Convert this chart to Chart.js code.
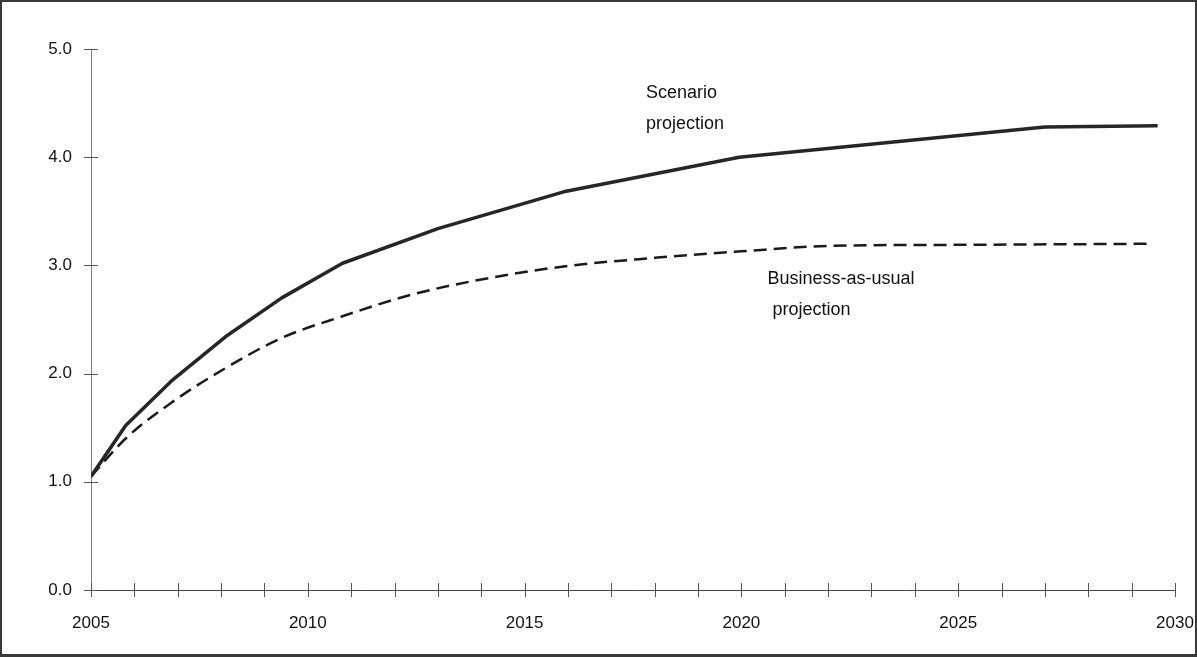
<!DOCTYPE html>
<html>
<head>
<meta charset="utf-8">
<script src="https://cdn.jsdelivr.net/npm/chart.js@4.4.1/dist/chart.umd.min.js"></script>
<style>
  html, body { margin:0; padding:0; background:#fff; }
  #wrap { position:relative; width:1197px; height:657px; }
  #frame { position:absolute; left:0; top:0; width:1197px; height:657px; box-sizing:border-box;
           border:2px solid #3a3a3a; border-bottom-width:3px; pointer-events:none; }
</style>
</head>
<body>
<div id="wrap">
  <canvas id="c" width="1197" height="657"></canvas>
  <div id="frame"></div>
</div>
<script>
// ====== DATA ======
const scenarioYears  = [2005, 2005.8, 2006.85, 2008.1, 2009.4, 2010.8, 2013.0, 2015.9, 2019.95, 2027.0, 2029.6];
const scenarioValues = [1.05, 1.52, 1.93, 2.34, 2.70, 3.02, 3.34, 3.68, 4.00, 4.28, 4.29];

const bauYears  = [2005, 2005.8, 2006.85, 2008.1, 2009.4, 2010.8, 2012.4, 2014.0, 2015.9, 2018.0, 2020.0, 2022.0, 2025.0, 2029.5];
const bauValues = [1.05, 1.40, 1.73, 2.05, 2.33, 2.53, 2.73, 2.87, 2.99, 3.07, 3.13, 3.18, 3.19, 3.20];

const xTickYears  = [2005, 2010, 2015, 2020, 2025, 2030];
const yTickValues = [0, 1, 2, 3, 4, 5];

// text labels placed in data coordinates
const notes = [
  { lines: ['Scenario', 'projection'], x: 2017.8, y: 4.59 },
  { lines: ['Business-as-usual', ' projection'], x: 2020.6, y: 2.87 }
];

const FAMILY = '"Liberation Sans", Arial, sans-serif';

// ====== HELPERS ======
const pts = (xs, ys) => xs.map((x, i) => ({ x, y: ys[i] }));

// ticks crossing the axis lines, like the original
const crossTicks = {
  id: 'crossTicks',
  afterDraw(chart){
    const { ctx, scales: { x, y } } = chart;
    ctx.save();
    ctx.lineWidth = 1;
    ctx.strokeStyle = '#555';
    for(let yr = 2005; yr <= 2030; yr++){
      const px = Math.round(x.getPixelForValue(yr)) + 0.5;
      ctx.beginPath(); ctx.moveTo(px, y.bottom - 7); ctx.lineTo(px, y.bottom + 7); ctx.stroke();
    }
    yTickValues.forEach(v => {
      const py = Math.round(y.getPixelForValue(v)) + 0.5;
      ctx.beginPath(); ctx.moveTo(x.left - 7, py); ctx.lineTo(x.left + 7, py); ctx.stroke();
    });
    ctx.restore();
  }
};

const noteText = {
  id: 'noteText',
  afterDatasetsDraw(chart){
    const { ctx, scales: { x, y } } = chart;
    ctx.save();
    ctx.font = '18px ' + FAMILY;
    ctx.fillStyle = '#111';
    ctx.textBaseline = 'middle';
    notes.forEach(n => {
      const px = x.getPixelForValue(n.x), py = y.getPixelForValue(n.y);
      n.lines.forEach((t, i) => ctx.fillText(t, px, py + i * 31));
    });
    ctx.restore();
  }
};

// ====== CHART ======
new Chart(document.getElementById('c'), {
  type: 'line',
  data: {
    datasets: [
      { label: 'Scenario projection', data: pts(scenarioYears, scenarioValues),
        borderColor: '#262626', borderWidth: 3.5, tension: 0, pointRadius: 0,
        borderCapStyle: 'butt', borderJoinStyle: 'round' },
      { label: 'Business-as-usual projection', data: pts(bauYears, bauValues),
        borderColor: '#1a1a1a', borderWidth: 2.5, borderDash: [13, 7], pointRadius: 0,
        cubicInterpolationMode: 'monotone' }
    ]
  },
  options: {
    responsive: false,
    animation: false,
    layout: { padding: { left: 0, top: 49, right: 22, bottom: 0 } },
    plugins: { legend: { display: false }, tooltip: { enabled: false } },
    scales: {
      x: {
        type: 'linear', min: 2005, max: 2030,
        afterBuildTicks: (s) => { s.ticks = xTickYears.map(v => ({ value: v })); },
        afterFit: (s) => { s.height = 67; s.paddingLeft = 0; s.paddingRight = 0; },
        grid: { display: false, drawTicks: false },
        border: { display: true, color: '#444', width: 1 },
        ticks: { padding: 23, color: '#111', font: { family: FAMILY, size: 17 },
                 maxRotation: 0, autoSkip: false, callback: v => String(v) }
      },
      y: {
        min: 0, max: 5,
        afterBuildTicks: (s) => { s.ticks = yTickValues.map(v => ({ value: v })); },
        afterFit: (s) => { s.width = 91; s.paddingTop = 0; s.paddingBottom = 0; },
        grid: { display: false, drawTicks: false },
        border: { display: true, color: '#7a7f8a', width: 1 },
        ticks: { padding: 19, color: '#111', font: { family: FAMILY, size: 17 },
                 callback: v => Number(v).toFixed(1) }
      }
    }
  },
  plugins: [crossTicks, noteText]
});
</script>
</body>
</html>
